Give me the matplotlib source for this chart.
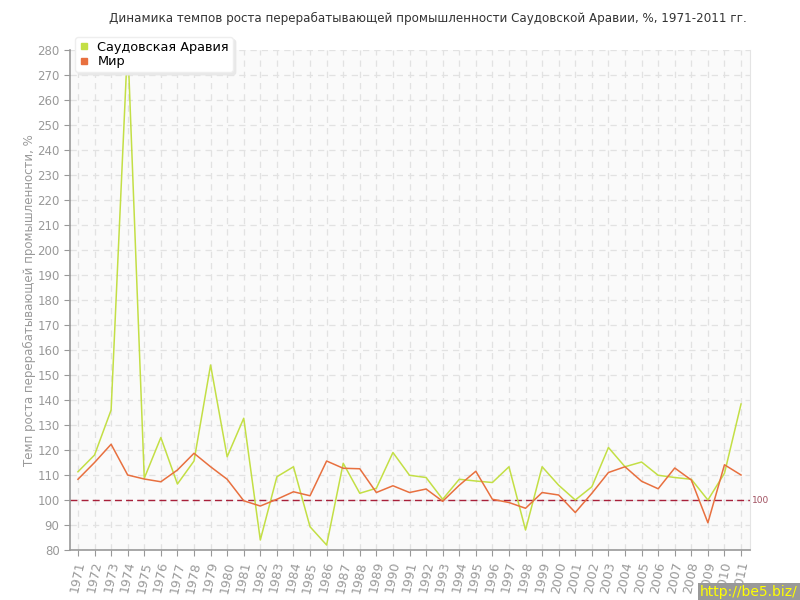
import numpy as np
import matplotlib
matplotlib.use('Agg')
from matplotlib import pyplot as plt
from matplotlib.lines import Line2D

years = list(range(1971, 2012))
saudi = [111.3, 118, 136, 283, 108.7, 125, 106.4, 115.6, 154, 117.3,
         132.7, 84, 109.3, 113.3, 89.3, 82, 114.7, 102.7, 104.7, 119,
         109.9, 109, 100.3, 108.3, 107.6, 107, 113.3, 88, 113.3, 105.9,
         100, 105.3, 121, 113.3, 115.2, 109.9, 109, 108.3, 100, 110.7, 138.4]
world = [108.3, 115, 122.3, 110, 108.4, 107.3, 112, 118.7, 113.3, 108.3,
         99.7, 97.6, 100.3, 103.3, 101.7, 115.6, 112.7, 112.5, 103, 105.7,
         103, 104.4, 99.5, 105.9, 111.5, 100.3, 99, 96.7, 103, 102,
         95, 102.7, 111, 113.3, 107.5, 104.5, 112.8, 108, 90.9, 114.1, 110]
names = ['Саудовская Аравия', 'Мир']
yticks = list(range(80, 290, 10))

green = '#c3df45'
orange = '#e8703f'
grey = '#999999'

fig = plt.figure(figsize=(8, 6), dpi=100)
ax = fig.add_axes([0.0875, 0.0833, 0.85, 0.8334])
ax.set_facecolor('#fafafa')

ax.plot(years, saudi, color=green, lw=1.1, zorder=3)
ax.plot(years, world, color=orange, lw=1.1, zorder=3)
ax.axhline(100, color='#a8203a', lw=1, ls=(0, (5, 3)), zorder=2)
ax.text(2011.65, 100, '100', color='#a05060', fontsize=6.5, va='center', ha='left')

ax.set_xlim(1970.52, 2011.54)
ax.set_ylim(80, 280)
ax.set_xticks(years)
ax.set_xticklabels([str(y) for y in years], rotation=78, color=grey, fontsize=9)
ax.set_yticks(yticks)
ax.set_yticklabels([str(v) for v in yticks], color=grey, fontsize=8.5)
ax.tick_params(axis='both', color=grey, length=4, direction='out')
ax.grid(True, color='#e2e2e2', ls=(0, (5, 4)), lw=0.9)
ax.set_axisbelow(True)

for s in ['left', 'bottom']:
    ax.spines[s].set_color(grey)
    ax.spines[s].set_linewidth(1.2)
ax.spines['top'].set_visible(False)
ax.spines['right'].set_color('#e4e4e4')

ax.set_ylabel('Темп роста перерабатывающей промышленности, %', color=grey, fontsize=8.5, labelpad=1)
fig.text(0.535, 0.97, 'Динамика темпов роста перерабатывающей промышленности Саудовской Аравии, %, 1971-2011 гг.',
         ha='center', va='center', fontsize=8.6, color='#333333')

handles = [Line2D([], [], ls='none', marker='s', markersize=4.5, color=green),
           Line2D([], [], ls='none', marker='s', markersize=4.5, color=orange)]
leg = ax.legend(handles, names, loc='upper left', bbox_to_anchor=(0.008, 1.026), frameon=True,
                fancybox=True, fontsize=9.3, handlelength=0.8, handletextpad=0.6, borderpad=0.3,
                labelspacing=0.1, borderaxespad=0,
                shadow={'ox': 2, 'oy': -2, 'color': '#e8e8e8', 'alpha': 1})
leg.get_frame().set_edgecolor('#eeeeee')
leg.get_frame().set_facecolor('white')
leg.get_frame().set_alpha(1)
leg.set_zorder(5)

fig.text(0.997, 0.002, 'http://be5.biz/', ha='right', va='bottom', color='#ffff00', fontsize=10,
         bbox=dict(facecolor='#999999', edgecolor='none', pad=1.5))

fig.savefig('out.png', dpi=100)
